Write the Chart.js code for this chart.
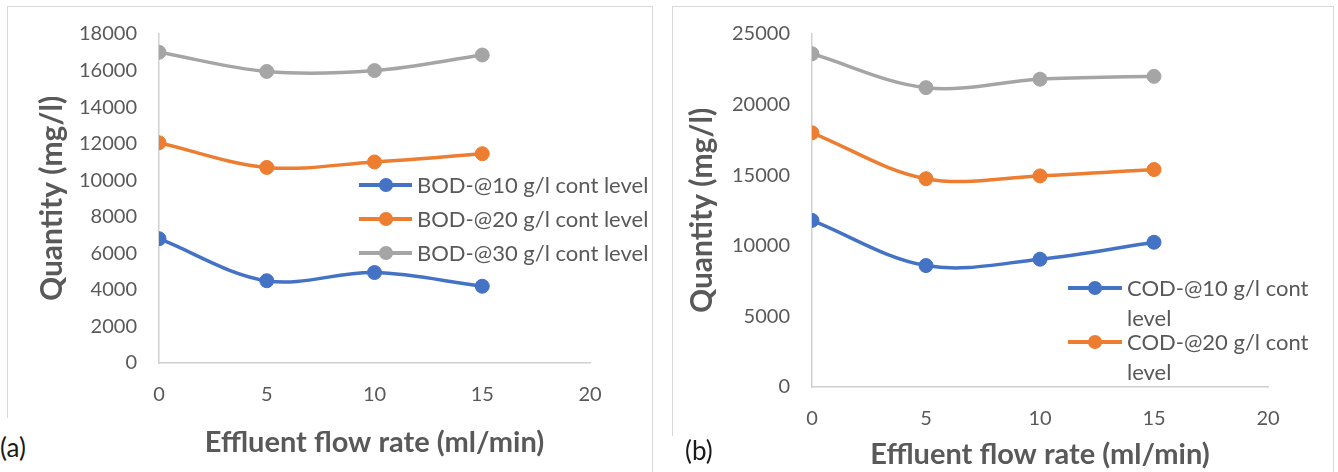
<!DOCTYPE html>
<html>
<head>
<meta charset="utf-8">
<script src="https://cdn.jsdelivr.net/npm/chart.js@4.4.0/dist/chart.umd.min.js"></script>
<style>
  body { margin: 0; background: #fff; width: 1338px; height: 472px; overflow: hidden; position: relative; font-family: Lato, sans-serif; }
  .panel { position: absolute; border: 1.5px solid #d9d9d9; box-sizing: border-box; }
  canvas { position: absolute; top: 0; }
  .tag { position: absolute; background: #fff; font-size: 26px; color: #1a1a1a; padding-right: 4px; }
  .legend { position: absolute; color: #595959; font-size: 22px; }
  .legend .item { position: absolute; display: flex; align-items: flex-start; }
  .legend .mark { position: relative; height: 30px; flex: none; }
  .legend .mark .ln { position: absolute; left: 0; right: 0; top: 13px; height: 4px; }
  .legend .mark .dot { position: absolute; top: 8px; width: 14px; height: 14px; border-radius: 50%; }
  .legend .txt { line-height: 30px; margin-left: 5px; }
</style>
</head>
<body>
<div class="panel" style="left:7px; top:6px; width:646px; height:520px;"></div>
<div class="panel" style="left:672px; top:6px; width:662px; height:520px;"></div>
<canvas id="bodChart" width="652" height="472" style="left:0px;"></canvas>
<canvas id="codChart" width="668" height="472" style="left:670px;"></canvas>
<div class="tag" style="left:0px; top:418px; height:54px; line-height:58px;">(a)</div>
<div class="tag" style="left:671px; top:436px; height:36px; padding-left:14px; line-height:28px;">(b)</div>
<div class="legend" id="bodLegend"></div>
<div class="legend" id="codLegend"></div>
<script>
// flow rate (ml/min)
const flowRates = [0, 5, 10, 15];

// BOD (mg/l) per contamination level
const bodLabels = ["BOD-@10 g/l cont level", "BOD-@20 g/l cont level", "BOD-@30 g/l cont level"];
const bod10 = [6800, 4500, 4950, 4200];
const bod20 = [12050, 10700, 11000, 11450];
const bod30 = [17000, 15950, 16000, 16850];

// COD (mg/l) per contamination level
const codLabels = ["COD-@10 g/l cont level", "COD-@20 g/l cont level", "COD-@30 g/l cont level"];
const cod10 = [11800, 8600, 9050, 10250];
const cod20 = [18000, 14750, 14950, 15400];
const cod30 = [23600, 21200, 21800, 22000];

const seriesColors = ["#4472C4", "#ED7D31", "#A5A5A5"];
const textColor = "#595959";
const axisColor = "#d0d0d0";

function toPoints(values) {
  return values.map((v, i) => ({ x: flowRates[i], y: v }));
}

function makeDatasets(labels, series) {
  return series.map((values, i) => ({
    label: labels[i],
    data: toPoints(values),
    borderColor: seriesColors[i],
    backgroundColor: seriesColors[i],
    pointBackgroundColor: seriesColors[i],
    pointBorderColor: seriesColors[i],
    borderWidth: 3.5,
    pointRadius: 7,
    pointBorderWidth: 1,
    tension: 0.35,
    fill: false
  }));
}

function makeChart(canvas, datasets, cfg) {
  return new Chart(canvas, {
    type: "line",
    data: { datasets: datasets },
    options: {
      responsive: false,
      animation: false,
      devicePixelRatio: 1,
      layout: { padding: { top: 34, right: cfg.padRight, left: 0, bottom: 0 } },
      plugins: { legend: { display: false }, tooltip: { enabled: false } },
      scales: {
        x: {
          type: "linear",
          min: 0,
          max: 20,
          afterFit: s => { s.height = cfg.xHeight; },
          grid: { display: false, drawTicks: false },
          border: { display: true, color: axisColor, width: 1.5 },
          ticks: { stepSize: 5, padding: 20, color: textColor, font: { family: "Lato", size: 20 }, callback: v => String(v) },
          title: {
            display: true,
            text: "Effluent flow rate (ml/min)",
            color: textColor,
            font: { family: "Lato", size: 29, weight: "bold" },
            padding: { top: 0, bottom: cfg.xTitlePad }
          }
        },
        y: {
          min: 0,
          max: cfg.yMax,
          afterFit: s => { s.width = cfg.yWidth; },
          grid: { display: false, drawTicks: false },
          border: { display: true, color: axisColor, width: 1.5 },
          ticks: { stepSize: cfg.yStep, padding: 22, color: textColor, font: { family: "Lato", size: 20 }, callback: v => String(v) },
          title: {
            display: true,
            text: "Quantity (mg/l)",
            color: textColor,
            font: { family: "Lato", size: 30, weight: "bold" },
            padding: { top: cfg.yTitlePad, bottom: 0 }
          }
        }
      }
    }
  });
}

// html legend built from the chart datasets
function buildLegend(el, chart, cfg) {
  el.style.left = cfg.left + "px";
  el.style.top = cfg.top + "px";
  chart.data.datasets.slice(0, cfg.count).forEach((ds, i) => {
    const item = document.createElement("div");
    item.className = "item";
    item.style.top = cfg.rowTops[i] + "px";
    item.innerHTML =
      '<div class="mark" style="width:' + cfg.markWidth + 'px">' +
      '<div class="ln" style="background:' + ds.borderColor + '"></div>' +
      '<div class="dot" style="left:' + (cfg.markWidth / 2 - 7) + 'px;background:' + ds.borderColor + '"></div></div>' +
      '<div class="txt" style="width:' + cfg.textWidth + 'px">' + ds.label + '</div>';
    el.appendChild(item);
  });
}

const bodChart = makeChart(document.getElementById("bodChart"),
  makeDatasets(bodLabels, [bod10, bod20, bod30]),
  { padRight: 62, xHeight: 109, yWidth: 159, yMax: 18000, yStep: 2000, xTitlePad: 12, yTitlePad: 34 });

const codChart = makeChart(document.getElementById("codChart"),
  makeDatasets(codLabels, [cod10, cod20, cod30]),
  { padRight: 70, xHeight: 85, yWidth: 142, yMax: 25000, yStep: 5000, xTitlePad: 0, yTitlePad: 14 });

buildLegend(document.getElementById("bodLegend"), bodChart,
  { left: 359, top: 170, count: 3, rowTops: [0, 34, 68], markWidth: 53, textWidth: 240 });
buildLegend(document.getElementById("codLegend"), codChart,
  { left: 1068, top: 273, count: 2, rowTops: [0, 54], markWidth: 54, textWidth: 190 });
</script>
</body>
</html>
